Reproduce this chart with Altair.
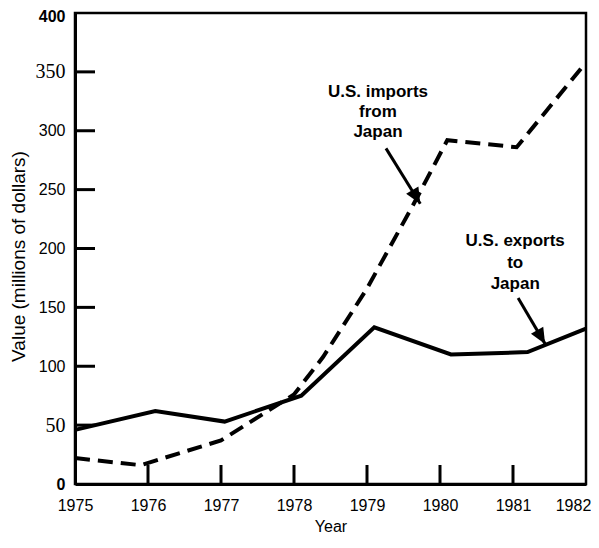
import altair as alt
import pandas as pd

# ---- data ----
exp_years = [1975.0, 1976.1, 1977.05, 1978.1, 1979.1, 1980.15, 1981.2, 1982.0]
exports = [46, 62, 53, 75, 133, 110, 112, 132]

imp_years = [1975.0, 1975.9, 1977.0, 1978.0, 1978.4, 1979.0, 1979.65, 1980.1, 1981.05, 1982.0]
imports = [22, 16, 37, 76, 108, 166, 239, 292, 286, 358]

x_tick_values = [1975, 1976, 1977, 1978, 1979, 1980, 1981, 1982]
y_tick_values = [0, 50, 100, 150, 200, 250, 300, 350, 400]
inner_x_ticks = [1976, 1977, 1978, 1979, 1980, 1981]
inner_y_ticks = [50, 100, 150, 200, 250, 300, 350]

label_lines = ["U.S. imports", "from", "Japan", "U.S. exports", "to", "Japan"]
label_x = [1979.15, 1979.15, 1979.15, 1981.03, 1981.03, 1981.03]
label_y = [333, 316, 299, 206, 188, 170]

arrow_x = [1979.26, 1981.07]
arrow_y = [285, 158]
arrow_x2 = [1979.73, 1981.44]
arrow_y2 = [238, 119]

W, H = 511, 471

xs = alt.Scale(domain=[1975, 1982], nice=False, zero=False)
ys = alt.Scale(domain=[0, 400], nice=False)

df_exp = pd.DataFrame({"year": exp_years, "value": exports})
df_imp = pd.DataFrame({"year": imp_years, "value": imports})
df_xt = pd.DataFrame({"year": inner_x_ticks})
df_yt = pd.DataFrame({"value": inner_y_ticks})
df_lab = pd.DataFrame({"x": label_x, "y": label_y, "t": label_lines})
df_arr = pd.DataFrame({"x": arrow_x, "y": arrow_y, "x2": arrow_x2, "y2": arrow_y2})

x_axis = alt.Axis(
    values=x_tick_values, format="d", ticks=False, tickSize=0, grid=False,
    domainColor="black", domainWidth=3,
    labelFont="Liberation Sans", labelFontSize=16, labelColor="black",
    labelPadding=13, labelFlush=False,
    labelOffset={"condition": {"test": "datum.value == 1982", "value": -13}, "value": 0},
    title="Year", titleFont="Liberation Sans", titleFontSize=16,
    titleFontWeight="normal", titleColor="black",
    titleBaseline="alphabetic", titleY=47,
)

y_axis = alt.Axis(
    values=y_tick_values, ticks=False, tickSize=0, grid=False,
    domainColor="black", domainWidth=3,
    labelFont={"condition": {"test": "datum.value == 350 || datum.value == 50",
                             "value": "Liberation Serif"}, "value": "Liberation Sans"},
    labelFontSize={"condition": {"test": "datum.value == 350 || datum.value == 50",
                                 "value": 20}, "value": 16},
    labelFontWeight={"condition": {"test": "datum.value == 0 || datum.value == 400",
                                   "value": "bold"}, "value": "normal"},
    labelOffset={"condition": {"test": "datum.value == 400", "value": 3}, "value": 0},
    labelColor="black", labelPadding=10, labelFlush=False,
    title="Value (millions of dollars)", titleFont="Liberation Sans",
    titleFontSize=19, titleFontWeight="normal", titleColor="black",
    titleAlign="center", titleBaseline="middle", titleX=-57, titleY=243,
)

exp_line = alt.Chart(df_exp).mark_line(
    color="black", strokeWidth=4, strokeJoin="miter"
).encode(
    x=alt.X("year:Q", scale=xs, axis=x_axis),
    y=alt.Y("value:Q", scale=ys, axis=y_axis),
    order="year:Q",
)

imp_line = alt.Chart(df_imp).mark_line(
    color="black", strokeWidth=4, strokeDash=[15, 8], strokeCap="butt"
).encode(
    x=alt.X("year:Q", scale=xs),
    y=alt.Y("value:Q", scale=ys),
    order="year:Q",
)

xticks = alt.Chart(df_xt).mark_rule(color="black", strokeWidth=3).encode(
    x=alt.X("year:Q", scale=xs),
    y=alt.value(H),
    y2=alt.value(H - 19),
)

yticks = alt.Chart(df_yt).mark_rule(color="black", strokeWidth=3).encode(
    y=alt.Y("value:Q", scale=ys),
    x=alt.value(0),
    x2=alt.value(20),
)

labels = alt.Chart(df_lab).mark_text(
    font="Liberation Sans", fontSize=17, fontWeight="bold", color="black",
    align="center", baseline="middle",
).encode(
    x=alt.X("x:Q", scale=xs),
    y=alt.Y("y:Q", scale=ys),
    text="t:N",
)

arrow_lines = alt.Chart(df_arr).mark_rule(color="black", strokeWidth=3).encode(
    x=alt.X("x:Q", scale=xs),
    y=alt.Y("y:Q", scale=ys),
    x2="x2:Q",
    y2="y2:Q",
)

arrow_heads = alt.Chart(df_arr).mark_point(
    shape="M0,0 L-0.45,-1 L0.45,-1 Z", filled=True, color="black",
    opacity=1, size=1000, angle=329.5,
).encode(
    x=alt.X("x2:Q", scale=xs),
    y=alt.Y("y2:Q", scale=ys),
)

chart = alt.layer(
    xticks, yticks, exp_line, imp_line, arrow_lines, arrow_heads, labels
).properties(
    width=W, height=H,
    autosize=alt.AutoSizeParams(type="none"),
    padding={"left": 67, "top": 5, "right": 5, "bottom": 50},
    background="white",
).configure_view(
    stroke="black", strokeWidth=2.5,
)

chart.save("out.html", embed_options={"renderer": "svg", "actions": False})
